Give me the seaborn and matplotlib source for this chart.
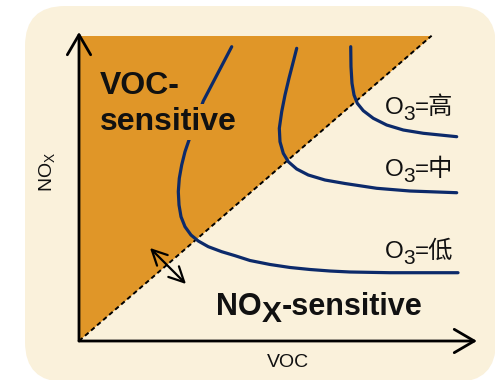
import numpy as np
import pandas as pd
import seaborn as sns
import matplotlib
matplotlib.use("Agg")
import matplotlib.pyplot as plt
from matplotlib.patches import FancyBboxPatch

# ---------------- data ----------------
# isopleth curves (VOC, NOx) in arbitrary units 0..10
low_x = [3.837, 3.123, 2.764, 2.663, 2.580, 2.520, 2.495, 2.513, 2.563, 2.663,
         2.814, 2.997, 3.249, 3.585, 3.920, 4.296, 4.799, 5.302, 5.804, 6.307,
         6.809, 7.814, 9.523]
low_y = [9.524, 7.767, 6.505, 6.126, 5.696, 5.265, 4.832, 4.401, 4.023, 3.699,
         3.430, 3.236, 3.052, 2.890, 2.761, 2.605, 2.476, 2.379, 2.314, 2.265,
         2.233, 2.210, 2.210]
mid_x = [5.470, 5.384, 5.276, 5.176, 5.093, 5.033, 5.050, 5.133, 5.259, 5.470,
         5.761, 6.181, 6.683, 7.480, 8.317, 9.490]
mid_y = [9.472, 9.039, 8.502, 7.961, 7.421, 6.883, 6.450, 6.074, 5.803, 5.566,
         5.372, 5.210, 5.097, 4.942, 4.854, 4.799]
high_x = [6.827, 6.834, 6.859, 6.910, 6.992, 7.143, 7.394, 7.731, 8.148, 8.651, 9.490]
high_y = [9.524, 8.877, 8.340, 7.961, 7.693, 7.453, 7.207, 6.990, 6.828, 6.722, 6.612]

curves = [(low_x, low_y), (mid_x, mid_y), (high_x, high_y)]
levels = ["低", "中", "高"]
label_x = [7.688, 7.688, 7.688]
label_y = [2.686, 5.324, 7.346]

# regime boundary (dashed) and VOC-sensitive triangle
tri_x = [0, 0, 8.86]
tri_y = [0, 9.88, 9.88]
xmax, ymax = 10, 10

# ---------------- style ----------------
sns.set_theme(style="white")
FAM = ["Liberation Sans", "Noto Sans CJK SC", "DejaVu Sans"]
plt.rcParams["font.family"] = FAM
plt.rcParams["mathtext.fontset"] = "custom"
plt.rcParams["mathtext.rm"] = "Liberation Sans"
plt.rcParams["mathtext.bf"] = "Liberation Sans:bold"

ORANGE = "#E09628"
CREAM = "#FAF1DB"
NAVY = "#0C2A6A"
TXT = "#111111"

fig = plt.figure(figsize=(4.95, 3.8), dpi=100)
fig.patch.set_facecolor("white")

# rounded cream background
bg = fig.add_axes([0, 0, 1, 1], zorder=-1)
bg.set_xlim(0, 495)
bg.set_ylim(380, 0)
bg.axis("off")
bg.add_patch(FancyBboxPatch((25, 6), 471, 376, boxstyle="round,pad=0,rounding_size=40",
                            fc=CREAM, ec="none"))

ax = fig.add_axes([79 / 495, 39 / 380, 398 / 495, 309 / 380])
ax.set_facecolor("none")
ax.set_xlim(0, xmax)
ax.set_ylim(0, ymax)
for s in ax.spines.values():
    s.set_visible(False)
ax.set_xticks([])
ax.set_yticks([])

# VOC-sensitive region
ax.fill(tri_x, tri_y, color=ORANGE, lw=0, zorder=1)
ax.plot([tri_x[0], tri_x[2]], [tri_y[0], tri_y[2]], color="black", lw=1.4,
        linestyle=(0, (2.4, 1.7)), zorder=2)

# isopleths
for cx, cy in curves:
    sns.lineplot(x=cx, y=cy, sort=False, estimator=None, color=NAVY, lw=2.3,
                 ax=ax, zorder=2)

# axes arrows
arr = dict(arrowstyle="->,head_length=1.2,head_width=0.7", lw=2.0, color="black",
           shrinkA=0, shrinkB=0)
ax.annotate("", xy=(0, 1), xytext=(0, 0), xycoords="axes fraction",
            textcoords="axes fraction", arrowprops=arr, zorder=4)
ax.annotate("", xy=(1, 0), xytext=(0, 0), xycoords="axes fraction",
            textcoords="axes fraction", arrowprops=arr, zorder=4)

# double arrow across boundary
ax.annotate("", xy=(2.688, 1.845), xytext=(1.784, 3.010),
            arrowprops=dict(arrowstyle="<->,head_length=0.9,head_width=0.45",
                            lw=1.6, color="black", shrinkA=0, shrinkB=0), zorder=4)

# texts
ax.text(0.528, 7.99, "VOC-", fontsize=23, fontweight="bold", color=TXT,
        va="baseline", ha="left", zorder=3)
ax.text(0.528, 6.83, "sensitive", fontsize=23, fontweight="bold", color=TXT,
        va="baseline", ha="left", zorder=3,
        bbox=dict(boxstyle="square,pad=0.08", fc=ORANGE, ec="none"))

fig.canvas.draw()
rend = fig.canvas.get_renderer()


def rich(x, y, parts, weight="normal"):
    off = 0.0
    for s, size, dy in parts:
        t = ax.annotate(s, (x, y), xytext=(off, dy), textcoords="offset pixels",
                        fontsize=size, fontweight=weight, color=TXT,
                        va="baseline", ha="left", family=FAM, zorder=5)
        off += t.get_window_extent(rend).width


rich(3.442, 0.841, [("NO", 22, 0), ("X", 21.5, -7), ("-sensitive", 22, 0)],
     weight="bold")

for lx, ly, lev in zip(label_x, label_y, levels):
    rich(lx, ly, [("O", 17.5, 0), ("3", 15.0, -6), ("=" + lev, 17.5, 0)])

ax.text(0.526, -0.068, "VOC", transform=ax.transAxes, fontsize=14, color=TXT,
        ha="center", va="center")
ax.text(-0.078, 0.547, r"NO$_\mathregular{X}$", transform=ax.transAxes, fontsize=14,
        color=TXT, ha="center", va="center", rotation=90)

fig.savefig("out.png", dpi=100, facecolor="white")
